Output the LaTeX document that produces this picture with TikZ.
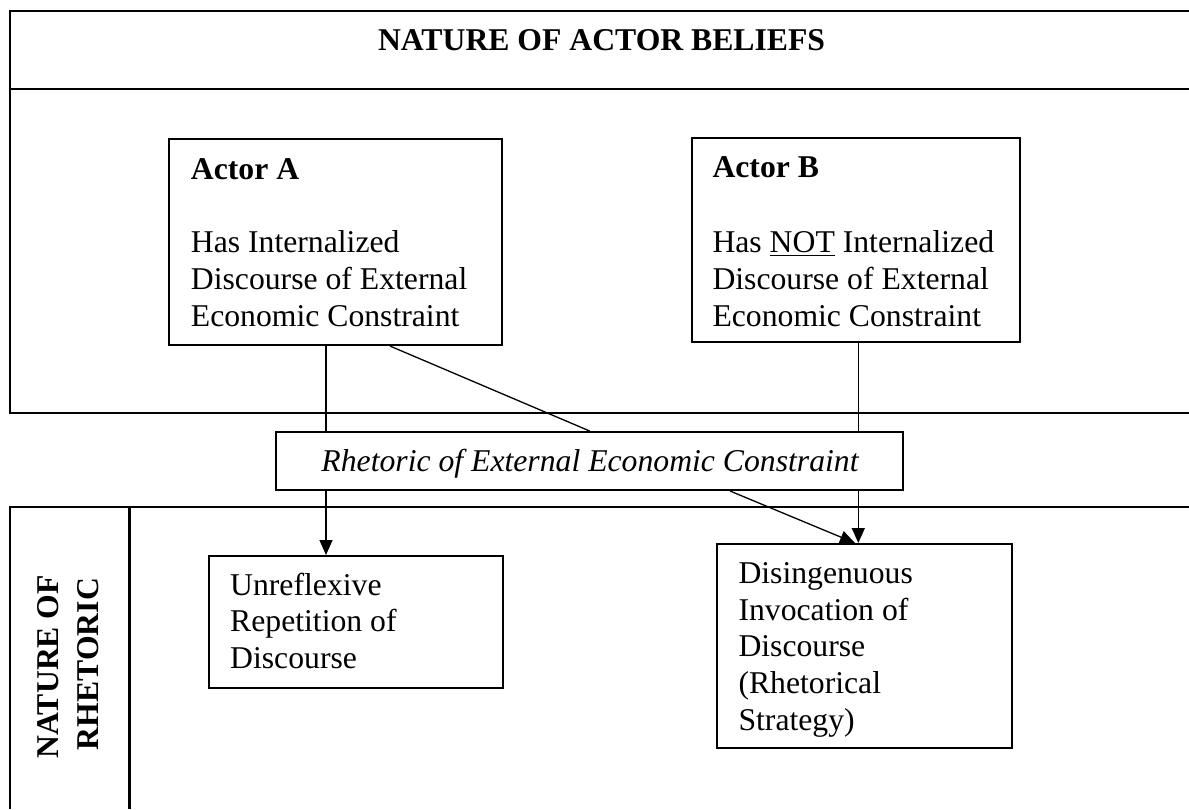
\documentclass[tikz,border=0pt]{standalone}
\usepackage{fontspec}
\setmainfont{Liberation Serif}
\usetikzlibrary{arrows.meta}
\newcommand{\myul}[1]{\setbox0\hbox{#1}\rlap{\rule[-3.6pt]{\wd0}{1.7pt}}\box0\relax}
\begin{document}
\begin{tikzpicture}[x=1pt,y=-1pt,
  frame/.style={line width=2.3pt, line join=miter},
  box/.style={draw, line width=2pt, rectangle, inner sep=0pt},
  txt/.style={inner sep=0pt, anchor=base west, font=\fontsize{31.7}{36.7}\selectfont},
  ctxt/.style={inner sep=0pt, anchor=base, font=\fontsize{31.7}{36.7}\selectfont},
  conn/.style={line width=1.3pt},
  arr/.style={line width=1.3pt, -{Triangle[length=15pt,width=13pt]}}]
\useasboundingbox (0,0) rectangle (1189,809);
% top section frame
\draw[frame] (1189,11) -- (10,11) -- (10,412.7) -- (1189,412.7);
\draw[frame] (10,89) -- (1189,89);
% bottom section frame
\draw[frame] (1189,507.3) -- (9.7,507.3) -- (9.7,809);
\draw[frame] (129.5,507.3) -- (129.5,809);
% titles
\node[ctxt, font=\fontsize{31.7}{36.7}\selectfont\bfseries] (title) at (601.6,50) {NATURE OF ACTOR BELIEFS};
\node[ctxt, rotate=90, font=\fontsize{31.7}{36.7}\selectfont\bfseries] (side1) at (58.3,666.7) {NATURE OF};
\node[ctxt, rotate=90, font=\fontsize{31.7}{36.7}\selectfont\bfseries] (side2) at (98,664) {RHETORIC};
% boxes
\node[box, minimum width=332.4pt, minimum height=205.7pt] (A) at (335.5,242.2) {};
\node[box, minimum width=328.3pt, minimum height=203.4pt] (B) at (855.85,240) {};
\node[box, minimum width=627.3pt, minimum height=58pt] (R) at (589.65,461) {};
\node[box, minimum width=293.4pt, minimum height=131.7pt] (U) at (356,621.85) {};
\node[box, minimum width=294.4pt, minimum height=204.3pt] (D) at (864.5,646.15) {};
% Actor A text
\node[txt, font=\fontsize{31.7}{36.7}\selectfont\bfseries] (a0) at (190.7,179.3) {Actor A};
\node[txt] (a1) at (190.7,252.7) {Has Internalized};
\node[txt] (a2) at (190.7,289.3) {Discourse of External};
\node[txt] (a3) at (190.7,326) {Economic Constraint};
% Actor B text
\node[txt, font=\fontsize{31.7}{36.7}\selectfont\bfseries] (b0) at (712.3,177.7) {Actor B};
\node[txt] (b1) at (712.3,252.7) {Has \myul{NOT} Internalized};
\node[txt] (b2) at (712.3,289.3) {Discourse of External};
\node[txt] (b3) at (712.3,326) {Economic Constraint};
% Rhetoric text
\node[ctxt, font=\fontsize{31.7}{36.7}\selectfont\itshape] (r0) at (590,471.7) {Rhetoric of External Economic Constraint};
% Unreflexive text
\node[txt] (u1) at (230,595) {Unreflexive};
\node[txt] (u2) at (230,631.7) {Repetition of};
\node[txt] (u3) at (230,668) {Discourse};
% Disingenuous text
\node[txt] (d1) at (738.3,583.3) {Disingenuous};
\node[txt] (d2) at (738.3,620) {Invocation of};
\node[txt] (d3) at (738.3,656.7) {Discourse};
\node[txt] (d4) at (738.3,693.3) {(Rhetorical};
\node[txt] (d5) at (738.3,730) {Strategy)};
% connector coordinates
\coordinate (lx) at (326,0);
\coordinate (rx) at (858.3,0);
\coordinate (da) at (390,0);
\coordinate (db) at (730,0);
\coordinate (dc) at (855,0);
% connectors
\draw[conn] (A.south -| lx) -- (R.north -| lx);
\draw[arr] (R.south -| lx) -- (U.north -| lx);
\draw[conn] (B.south -| rx) -- (R.north -| rx);
\draw[arr] (R.south -| rx) -- (D.north -| rx);
\draw[conn] (A.south -| da) -- (R.north);
\draw[arr] (R.south -| db) -- (D.north -| dc);
\end{tikzpicture}
\end{document}
